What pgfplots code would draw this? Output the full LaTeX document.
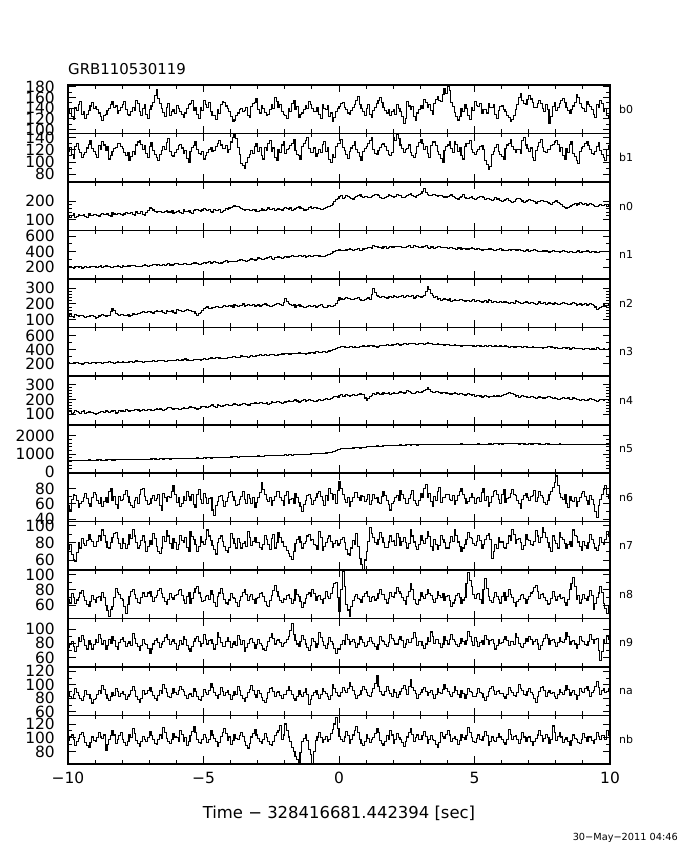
\documentclass[border=0pt]{standalone}
\usepackage{pgfplots}
\pgfplotsset{compat=1.18}
\usepackage{fontspec}
\setmainfont{DejaVu Sans}
\pgfplotsset{
  panel/.style={
    scale only axis, width=542bp, height=48.5bp,
    xmin=-10, xmax=10,
    xtick={-10,-5,0,5,10}, minor x tick num=4,
    xticklabels={},
    major tick length=7.5bp, minor tick length=4bp,
    tick style={black, line width=0.9bp},
    axis line style={line width=1.1bp},
    yticklabel style={font=\fontsize{15.5}{15.5}\selectfont, anchor=east, inner sep=0pt, xshift=-13bp},
    /pgf/number format/assume math mode=true,
    /pgf/number format/1000 sep={},
    anchor=north west,
  },
  sig/.style={black, line width=1.1bp, const plot, mark=none},
}
\begin{document}
\begin{tikzpicture}
\path[use as bounding box, fill=white] (0,0) rectangle (680bp,850bp);
\node[anchor=base west, inner sep=0pt, font=\fontsize{15}{15}\selectfont] at (68bp,775bp) {GRB110530119};

% b0
\begin{axis}[panel, at={(68bp,765bp)}, ymin=93, ymax=183, ytick={100,120,140,160,180}, minor y tick num=1]
\addplot[sig] table[x expr=\coordindex*0.0625-10,y index=0,header=false,row sep=\\]{132\\140\\125\\119\\141\\135\\146\\152\\128\\134\\121\\129\\136\\144\\150\\139\\143\\137\\131\\124\\117\\126\\128\\135\\139\\147\\152\\141\\144\\130\\135\\142\\147\\153\\138\\129\\126\\133\\142\\136\\155\\148\\133\\127\\140\\146\\129\\121\\137\\144\\151\\163\\174\\158\\148\\139\\132\\125\\141\\149\\127\\133\\138\\130\\145\\139\\134\\128\\122\\131\\139\\146\\149\\155\\136\\142\\128\\121\\142\\136\\155\\147\\141\\150\\133\\127\\126\\119\\137\\130\\146\\153\\151\\144\\139\\133\\124\\115\\118\\127\\131\\137\\140\\134\\135\\141\\127\\122\\143\\149\\150\\157\\138\\131\\145\\139\\132\\126\\129\\137\\147\\140\\159\\152\\141\\147\\134\\128\\126\\121\\140\\134\\148\\155\\137\\143\\122\\129\\131\\137\\145\\139\\152\\146\\140\\134\\133\\141\\128\\120\\146\\139\\138\\145\\125\\131\\116\\123\\134\\140\\143\\149\\150\\142\\137\\131\\129\\136\\141\\147\\155\\161\\147\\140\\133\\127\\139\\146\\128\\122\\135\\141\\148\\154\\160\\151\\142\\136\\131\\138\\126\\133\\137\\129\\146\\140\\133\\125\\112\\121\\152\\144\\138\\143\\124\\118\\131\\137\\145\\139\\156\\150\\141\\147\\135\\129\\148\\156\\162\\155\\153\\165\\176\\168\\181\\172\\150\\143\\132\\125\\118\\124\\139\\133\\147\\140\\126\\119\\141\\135\\152\\145\\143\\149\\130\\137\\137\\131\\149\\142\\141\\146\\128\\121\\136\\143\\144\\138\\133\\127\\122\\115\\119\\126\\138\\147\\160\\167\\154\\148\\147\\156\\163\\157\\150\\142\\141\\148\\155\\149\\139\\133\\146\\138\\112\\124\\143\\151\\135\\142\\149\\155\\158\\151\\141\\135\\130\\137\\144\\150\\166\\159\\148\\141\\139\\133\\152\\146\\143\\137\\128\\122\\146\\141\\155\\149\\134\\140\\127\\121\\121\\};
\end{axis}

% b1
\begin{axis}[panel, at={(68bp,716.5bp)}, ymin=67, ymax=147, ytick={80,100,120,140}, minor y tick num=1]
\addplot[sig] table[x expr=\coordindex*0.0625-10,y index=0,header=false,row sep=\\]{118\\124\\112\\106\\125\\131\\121\\115\\108\\113\\116\\123\\129\\136\\122\\117\\113\\108\\127\\121\\134\\128\\119\\125\\105\\111\\117\\122\\124\\130\\131\\126\\122\\116\\110\\115\\103\\109\\118\\112\\128\\133\\136\\129\\121\\127\\114\\108\\126\\132\\119\\113\\108\\102\\113\\119\\125\\120\\132\\138\\117\\111\\109\\115\\121\\127\\129\\123\\114\\119\\106\\100\\118\\124\\127\\133\\120\\114\\112\\118\\105\\110\\116\\121\\124\\118\\119\\126\\130\\136\\128\\122\\122\\127\\115\\120\\133\\140\\146\\138\\124\\112\\98\\94\\90\\99\\107\\113\\119\\114\\126\\131\\118\\124\\111\\105\\124\\119\\130\\135\\117\\123\\108\\102\\121\\116\\128\\134\\114\\120\\122\\127\\131\\137\\119\\113\\110\\104\\126\\131\\135\\140\\122\\116\\116\\123\\109\\114\\121\\115\\129\\134\\118\\124\\104\\99\\113\\108\\125\\130\\131\\137\\124\\119\\112\\106\\118\\123\\127\\133\\121\\115\\109\\103\\117\\122\\126\\131\\135\\141\\120\\114\\113\\119\\124\\129\\131\\125\\119\\113\\110\\116\\141\\136\\146\\139\\128\\122\\115\\120\\122\\128\\116\\110\\108\\114\\126\\132\\137\\130\\121\\126\\114\\108\\127\\133\\133\\127\\118\\112\\106\\100\\119\\125\\128\\133\\122\\116\\134\\129\\117\\123\\111\\105\\125\\131\\130\\136\\121\\115\\113\\118\\120\\126\\127\\121\\103\\96\\88\\93\\112\\118\\124\\129\\118\\113\\109\\104\\122\\128\\131\\137\\126\\120\\115\\121\\120\\114\\136\\141\\128\\122\\117\\123\\108\\103\\119\\125\\132\\137\\124\\118\\115\\121\\121\\127\\129\\133\\135\\129\\118\\124\\110\\104\\122\\116\\129\\134\\114\\109\\103\\98\\117\\123\\125\\131\\133\\127\\120\\114\\112\\118\\126\\132\\119\\113\\108\\102\\121\\127\\127\\};
\end{axis}

% n0
\begin{axis}[panel, at={(68bp,668bp)}, ymin=40, ymax=305, ytick={100,200}, minor y tick num=4]
\addplot[sig] table[x expr=\coordindex*0.0625-10,y index=0,header=false,row sep=\\]{118\\112\\124\\131\\109\\116\\127\\120\\121\\128\\115\\109\\130\\124\\122\\129\\126\\120\\119\\126\\133\\127\\128\\134\\122\\117\\136\\130\\127\\133\\131\\125\\124\\130\\138\\132\\132\\139\\127\\121\\141\\135\\135\\142\\129\\124\\137\\150\\168\\160\\152\\145\\139\\146\\144\\138\\136\\142\\148\\141\\141\\147\\133\\139\\145\\151\\139\\133\\152\\146\\143\\150\\137\\131\\149\\155\\156\\149\\144\\152\\162\\155\\150\\157\\143\\136\\155\\149\\148\\154\\139\\145\\151\\158\\157\\163\\166\\172\\178\\170\\171\\164\\160\\154\\149\\156\\155\\148\\147\\153\\152\\146\\144\\151\\158\\152\\150\\157\\163\\156\\155\\161\\147\\153\\160\\154\\152\\159\\165\\158\\157\\163\\149\\155\\162\\168\\170\\163\\158\\152\\151\\157\\164\\170\\159\\165\\168\\161\\161\\155\\153\\160\\166\\172\\172\\179\\185\\196\\208\\217\\224\\230\\216\\222\\229\\224\\221\\215\\212\\219\\226\\232\\234\\227\\219\\225\\227\\221\\218\\225\\230\\237\\236\\229\\222\\216\\214\\220\\228\\235\\233\\226\\221\\228\\237\\231\\229\\222\\218\\225\\231\\238\\240\\233\\226\\220\\233\\239\\244\\255\\268\\250\\238\\232\\229\\235\\236\\230\\224\\229\\231\\225\\218\\223\\226\\232\\234\\228\\219\\213\\212\\218\\228\\235\\221\\215\\215\\221\\224\\217\\210\\216\\219\\225\\226\\219\\207\\213\\214\\208\\203\\209\\218\\212\\212\\205\\199\\205\\211\\217\\205\\198\\193\\200\\208\\214\\214\\207\\201\\195\\196\\202\\209\\203\\202\\196\\190\\197\\197\\203\\205\\199\\198\\191\\186\\180\\194\\200\\201\\195\\188\\181\\172\\166\\162\\168\\170\\176\\183\\189\\179\\185\\191\\186\\182\\188\\175\\181\\188\\182\\179\\173\\170\\177\\184\\178\\177\\183\\172\\178\\178\\};
\end{axis}

% n1
\begin{axis}[panel, at={(68bp,619.5bp)}, ymin=50, ymax=670, ytick={200,400,600}, minor y tick num=1]
\addplot[sig] table[x expr=\coordindex*0.0625-10,y index=0,header=false,row sep=\\]{205\\213\\196\\188\\212\\204\\201\\209\\190\\197\\208\\201\\199\\206\\214\\207\\203\\196\\210\\217\\197\\205\\218\\211\\206\\200\\199\\207\\215\\222\\208\\201\\221\\214\\209\\217\\216\\223\\228\\220\\212\\206\\205\\213\\224\\231\\219\\212\\227\\220\\238\\231\\225\\233\\219\\226\\234\\227\\241\\248\\229\\222\\236\\243\\244\\237\\232\\240\\251\\244\\240\\233\\236\\243\\255\\262\\247\\240\\239\\246\\258\\251\\266\\273\\252\\259\\271\\264\\260\\253\\255\\262\\274\\281\\263\\270\\279\\272\\268\\276\\286\\293\\297\\289\\281\\275\\290\\298\\305\\297\\292\\300\\318\\310\\302\\295\\311\\319\\326\\333\\309\\302\\320\\327\\331\\324\\315\\322\\338\\331\\325\\332\\346\\339\\334\\341\\352\\345\\341\\348\\329\\336\\347\\340\\339\\346\\356\\349\\344\\337\\332\\340\\351\\358\\368\\376\\395\\403\\412\\420\\426\\418\\410\\417\\421\\428\\438\\431\\415\\422\\429\\436\\419\\412\\433\\440\\441\\448\\452\\445\\478\\470\\461\\454\\448\\441\\459\\466\\445\\452\\466\\459\\458\\465\\471\\464\\462\\455\\449\\456\\467\\474\\455\\448\\474\\467\\460\\453\\452\\459\\466\\473\\448\\441\\459\\466\\443\\450\\470\\462\\451\\458\\457\\449\\440\\447\\452\\445\\437\\430\\446\\453\\429\\436\\441\\434\\433\\440\\448\\441\\426\\433\\438\\431\\419\\426\\432\\425\\441\\434\\427\\420\\416\\423\\430\\437\\421\\414\\409\\416\\425\\418\\432\\425\\414\\421\\423\\416\\411\\404\\418\\425\\406\\413\\420\\427\\412\\405\\399\\406\\415\\408\\408\\401\\394\\401\\410\\403\\403\\396\\389\\396\\412\\405\\398\\391\\407\\400\\393\\386\\401\\408\\388\\395\\396\\403\\408\\401\\391\\398\\402\\395\\385\\392\\399\\406\\407\\400\\398\\405\\405\\};
\end{axis}

% n2
\begin{axis}[panel, at={(68bp,571bp)}, ymin=48, ymax=360, ytick={100,200,300}, minor y tick num=4]
\addplot[sig] table[x expr=\coordindex*0.0625-10,y index=0,header=false,row sep=\\]{124\\130\\118\\112\\130\\124\\121\\127\\127\\120\\112\\118\\119\\125\\128\\121\\106\\114\\122\\128\\131\\125\\118\\124\\125\\150\\170\\155\\139\\132\\128\\134\\133\\127\\126\\132\\121\\128\\135\\129\\129\\136\\138\\144\\152\\145\\146\\152\\149\\143\\141\\148\\156\\150\\150\\156\\144\\138\\159\\152\\153\\160\\147\\141\\162\\156\\155\\149\\148\\155\\166\\160\\158\\152\\151\\140\\128\\136\\145\\158\\171\\177\\180\\173\\168\\175\\176\\182\\184\\178\\177\\184\\189\\182\\181\\187\\186\\180\\194\\188\\181\\187\\192\\199\\185\\191\\198\\192\\188\\195\\183\\189\\193\\186\\187\\194\\199\\193\\190\\184\\184\\191\\196\\202\\205\\198\\191\\210\\234\\218\\202\\195\\188\\194\\180\\187\\193\\186\\184\\178\\176\\183\\189\\182\\182\\188\\175\\181\\188\\194\\181\\175\\179\\186\\190\\183\\184\\192\\201\\220\\238\\231\\229\\236\\241\\234\\233\\227\\226\\232\\237\\243\\230\\224\\224\\230\\232\\238\\227\\260\\298\\275\\256\\249\\241\\247\\249\\242\\238\\244\\246\\240\\252\\245\\243\\250\\249\\256\\240\\246\\255\\249\\246\\253\\238\\244\\251\\245\\244\\250\\256\\280\\309\\290\\268\\255\\241\\247\\229\\236\\222\\228\\233\\227\\225\\231\\218\\224\\230\\223\\221\\228\\227\\220\\215\\222\\224\\217\\219\\226\\214\\220\\222\\215\\210\\217\\219\\212\\226\\220\\208\\214\\216\\210\\211\\218\\206\\212\\215\\208\\202\\209\\211\\205\\219\\213\\208\\202\\203\\210\\214\\207\\201\\207\\209\\202\\197\\204\\212\\205\\204\\210\\196\\203\\208\\201\\199\\206\\205\\198\\194\\201\\210\\204\\201\\195\\196\\203\\207\\200\\189\\196\\199\\192\\196\\202\\188\\195\\203\\197\\192\\180\\162\\170\\178\\185\\193\\186\\187\\194\\194\\};
\end{axis}

% n3
\begin{axis}[panel, at={(68bp,522.5bp)}, ymin=27, ymax=720, ytick={200,400,600}, minor y tick num=1]
\addplot[sig] table[x expr=\coordindex*0.0625-10,y index=0,header=false,row sep=\\]{218\\211\\206\\214\\224\\217\\211\\205\\199\\207\\215\\222\\208\\203\\221\\214\\213\\220\\226\\219\\209\\216\\219\\225\\231\\223\\214\\208\\222\\229\\217\\224\\229\\222\\218\\226\\235\\228\\224\\231\\241\\234\\230\\237\\222\\229\\237\\230\\233\\240\\246\\239\\238\\245\\251\\244\\242\\236\\236\\243\\254\\247\\247\\254\\258\\251\\249\\256\\264\\270\\255\\249\\247\\254\\268\\261\\260\\266\\253\\260\\276\\269\\268\\275\\285\\279\\279\\286\\291\\284\\283\\277\\272\\280\\288\\295\\294\\300\\305\\297\\289\\296\\312\\305\\301\\308\\296\\303\\318\\311\\307\\314\\322\\328\\314\\321\\331\\324\\325\\332\\338\\331\\319\\326\\333\\340\\341\\335\\346\\352\\335\\342\\352\\346\\344\\351\\358\\351\\349\\343\\339\\346\\356\\363\\362\\355\\371\\378\\358\\365\\379\\372\\366\\373\\384\\393\\402\\410\\418\\428\\436\\443\\448\\441\\431\\438\\452\\445\\440\\447\\429\\436\\445\\451\\456\\449\\449\\456\\462\\469\\455\\448\\441\\448\\468\\461\\459\\466\\471\\464\\463\\470\\475\\482\\486\\479\\469\\476\\492\\485\\481\\488\\497\\490\\488\\482\\479\\486\\494\\487\\483\\490\\499\\492\\487\\480\\472\\479\\490\\483\\478\\471\\466\\473\\471\\464\\459\\466\\476\\469\\464\\457\\452\\459\\468\\461\\457\\464\\463\\456\\450\\457\\462\\455\\447\\454\\458\\451\\466\\459\\444\\451\\455\\448\\449\\456\\443\\450\\456\\449\\438\\445\\449\\442\\441\\448\\453\\446\\437\\444\\446\\439\\432\\439\\445\\438\\429\\436\\440\\433\\426\\433\\437\\444\\448\\441\\431\\424\\428\\421\\417\\424\\435\\428\\422\\429\\413\\420\\429\\422\\419\\426\\426\\419\\411\\418\\424\\417\\406\\413\\418\\411\\429\\422\\402\\409\\415\\408\\409\\416\\416\\};
\end{axis}

% n4
\begin{axis}[panel, at={(68bp,474bp)}, ymin=31, ymax=359, ytick={100,200,300}, minor y tick num=4]
\addplot[sig] table[x expr=\coordindex*0.0625-10,y index=0,header=false,row sep=\\]{116\\122\\108\\113\\124\\118\\112\\106\\119\\125\\105\\111\\121\\115\\114\\108\\102\\107\\111\\117\\118\\112\\126\\120\\115\\121\\122\\128\\109\\115\\128\\122\\124\\118\\131\\125\\119\\126\\127\\133\\135\\129\\122\\128\\130\\124\\126\\132\\133\\127\\128\\135\\141\\135\\136\\130\\125\\132\\139\\145\\145\\139\\134\\140\\140\\134\\132\\139\\147\\141\\139\\146\\151\\145\\143\\137\\136\\142\\149\\155\\155\\149\\146\\152\\159\\165\\152\\146\\163\\157\\150\\156\\158\\164\\166\\160\\160\\166\\171\\165\\157\\163\\168\\174\\175\\169\\163\\157\\170\\176\\178\\172\\172\\178\\181\\175\\176\\182\\169\\175\\184\\178\\179\\185\\188\\182\\175\\181\\183\\189\\191\\185\\186\\192\\197\\190\\180\\187\\193\\199\\188\\194\\199\\192\\194\\188\\186\\193\\202\\196\\195\\201\\208\\202\\199\\206\\213\\218\\221\\215\\226\\232\\218\\224\\231\\225\\224\\230\\236\\229\\229\\235\\240\\234\\233\\210\\196\\208\\222\\229\\238\\232\\245\\239\\231\\237\\249\\243\\240\\246\\236\\242\\247\\241\\239\\245\\252\\246\\244\\250\\258\\252\\248\\242\\241\\247\\254\\248\\249\\255\\262\\270\\283\\265\\256\\250\\247\\253\\253\\247\\244\\250\\250\\244\\243\\237\\237\\243\\248\\242\\232\\238\\241\\235\\229\\235\\238\\232\\226\\231\\221\\226\\230\\224\\217\\223\\226\\220\\214\\219\\223\\229\\219\\224\\228\\222\\225\\231\\236\\243\\249\\241\\238\\231\\222\\228\\215\\221\\226\\220\\219\\214\\212\\218\\221\\215\\208\\214\\217\\211\\205\\210\\214\\220\\222\\216\\209\\215\\206\\201\\199\\205\\213\\207\\204\\210\\197\\203\\210\\204\\202\\197\\195\\201\\201\\196\\192\\198\\206\\200\\197\\192\\189\\195\\203\\197\\194\\200\\198\\193\\193\\};
\end{axis}

% n5
\begin{axis}[panel, at={(68bp,425.5bp)}, ymin=-38, ymax=2612, ytick={0,1000,2000}, minor y tick num=4]
\addplot[sig] table[x expr=\coordindex*0.0625-10,y index=0,header=false,row sep=\\]{652\\659\\641\\648\\668\\661\\655\\649\\637\\645\\660\\667\\673\\665\\649\\656\\664\\671\\679\\672\\658\\665\\671\\678\\686\\679\\667\\674\\680\\687\\692\\685\\688\\695\\701\\694\\683\\690\\709\\702\\695\\703\\714\\707\\700\\708\\722\\715\\718\\725\\731\\724\\712\\719\\737\\730\\725\\733\\743\\736\\729\\737\\748\\741\\756\\749\\742\\750\\769\\762\\754\\761\\771\\764\\762\\770\\783\\776\\768\\775\\790\\783\\805\\798\\784\\792\\812\\805\\798\\806\\821\\814\\806\\813\\829\\822\\836\\843\\851\\844\\833\\841\\862\\855\\847\\855\\870\\863\\858\\866\\881\\874\\893\\886\\878\\885\\905\\898\\914\\907\\897\\905\\926\\918\\911\\919\\935\\928\\948\\941\\962\\955\\941\\949\\973\\966\\958\\965\\986\\979\\971\\979\\995\\1001\\1008\\1015\\1022\\1030\\1039\\1028\\1017\\1036\\1056\\1068\\1081\\1102\\1125\\1160\\1196\\1232\\1268\\1283\\1297\\1305\\1312\\1300\\1289\\1310\\1330\\1339\\1348\\1334\\1321\\1342\\1362\\1375\\1389\\1400\\1410\\1401\\1392\\1415\\1436\\1428\\1421\\1434\\1447\\1457\\1468\\1460\\1452\\1466\\1481\\1472\\1463\\1479\\1495\\1486\\1478\\1490\\1502\\1495\\1489\\1503\\1517\\1505\\1494\\1501\\1508\\1517\\1526\\1512\\1499\\1516\\1534\\1523\\1512\\1527\\1541\\1530\\1520\\1513\\1506\\1518\\1529\\1520\\1511\\1524\\1537\\1529\\1522\\1535\\1548\\1539\\1530\\1522\\1515\\1527\\1539\\1531\\1524\\1535\\1546\\1538\\1531\\1524\\1518\\1536\\1553\\1545\\1538\\1549\\1560\\1551\\1541\\1555\\1547\\1556\\1566\\1558\\1550\\1562\\1573\\1565\\1558\\1550\\1544\\1553\\1562\\1548\\1535\\1543\\1551\\1545\\1539\\1552\\1563\\1555\\1546\\1537\\1528\\1541\\1555\\1547\\1540\\1533\\1532\\1540\\1526\\1537\\1548\\1540\\1533\\1525\\1519\\1530\\1541\\1533\\1524\\1517\\1510\\1522\\1535\\1527\\1518\\1526\\1532\\1520\\1507\\1515\\1525\\1533\\1540\\1528\\1516\\1523\\1529\\1520\\1512\\1518\\1518\\};
\draw[line width=2.6bp] (rel axis cs:0,1) -- (rel axis cs:1,1);
\end{axis}

% n6
\begin{axis}[panel, at={(68bp,377bp)}, ymin=36.7, ymax=101, ytick={40,60,80}, minor y tick num=1]
\addplot[sig] table[x expr=\coordindex*0.0625-10,y index=0,header=false,row sep=\\]{58\\52\\66\\73\\71\\64\\55\\61\\63\\69\\74\\67\\60\\57\\68\\75\\72\\65\\61\\68\\57\\63\\69\\62\\76\\81\\64\\70\\59\\54\\70\\64\\66\\72\\78\\70\\62\\58\\55\\64\\68\\61\\73\\79\\81\\70\\64\\59\\60\\67\\71\\64\\67\\73\\58\\52\\74\\68\\63\\70\\69\\76\\85\\72\\62\\69\\56\\61\\70\\64\\77\\70\\65\\72\\59\\55\\72\\79\\66\\61\\74\\68\\61\\67\\68\\52\\45\\58\\63\\70\\71\\65\\57\\63\\69\\75\\76\\70\\64\\58\\59\\66\\70\\76\\66\\60\\73\\67\\61\\68\\55\\62\\68\\75\\88\\79\\72\\66\\63\\69\\58\\64\\70\\77\\76\\69\\64\\58\\71\\77\\60\\66\\67\\61\\74\\68\\62\\57\\50\\59\\65\\71\\73\\67\\59\\64\\68\\74\\77\\70\\64\\58\\71\\65\\81\\74\\66\\72\\60\\78\\90\\80\\72\\66\\62\\68\\57\\63\\69\\75\\75\\69\\64\\71\\70\\63\\66\\72\\59\\65\\73\\67\\68\\62\\61\\70\\77\\71\\65\\59\\52\\61\\63\\69\\71\\65\\78\\72\\67\\61\\60\\67\\72\\78\\65\\60\\58\\65\\74\\68\\81\\86\\69\\74\\63\\57\\70\\64\\76\\82\\62\\68\\68\\73\\72\\66\\65\\71\\59\\64\\71\\77\\80\\73\\67\\61\\63\\69\\74\\68\\61\\67\\69\\63\\75\\80\\64\\70\\57\\62\\70\\76\\78\\72\\66\\60\\73\\79\\62\\67\\68\\74\\79\\72\\71\\65\\60\\54\\66\\71\\74\\69\\65\\70\\71\\78\\63\\68\\76\\71\\68\\62\\59\\65\\72\\77\\82\\88\\97\\85\\74\\68\\66\\72\\61\\55\\70\\64\\63\\69\\57\\63\\69\\74\\76\\70\\64\\59\\71\\66\\59\\50\\42\\58\\66\\72\\79\\84\\73\\67\\67\\};
\end{axis}

% n7
\begin{axis}[panel, at={(68bp,328.5bp)}, ymin=48.4, ymax=104.9, ytick={60,80,100}, minor y tick num=1]
\addplot[sig] table[x expr=\coordindex*0.0625-10,y index=0,header=false,row sep=\\]{72\\78\\66\\60\\58\\69\\80\\74\\85\\79\\77\\83\\90\\84\\82\\76\\76\\82\\88\\83\\95\\89\\81\\75\\74\\80\\86\\91\\92\\85\\79\\73\\85\\79\\73\\78\\90\\85\\96\\88\\80\\74\\77\\83\\88\\81\\70\\76\\83\\78\\91\\85\\76\\70\\68\\74\\87\\82\\94\\88\\79\\73\\85\\80\\72\\78\\89\\83\\81\\86\\75\\70\\93\\87\\84\\78\\70\\76\\87\\81\\78\\84\\95\\88\\83\\77\\72\\67\\80\\85\\88\\82\\76\\71\\69\\75\\91\\85\\79\\74\\85\\80\\74\\79\\82\\76\\93\\86\\77\\82\\86\\80\\80\\75\\72\\78\\89\\84\\78\\72\\85\\90\\74\\80\\92\\86\\81\\76\\76\\71\\68\\64\\61\\70\\79\\84\\87\\81\\74\\79\\82\\88\\90\\83\\84\\78\\77\\72\\93\\86\\71\\76\\80\\85\\88\\82\\75\\79\\83\\77\\79\\84\\86\\80\\72\\67\\65\\74\\83\\78\\91\\76\\62\\55\\49\\60\\70\\82\\98\\91\\86\\80\\78\\84\\92\\86\\80\\75\\75\\81\\88\\82\\83\\77\\91\\86\\77\\82\\86\\80\\74\\79\\95\\88\\81\\76\\72\\78\\88\\83\\79\\85\\93\\87\\76\\71\\84\\78\\72\\77\\89\\84\\80\\74\\74\\80\\87\\82\\95\\89\\81\\76\\70\\74\\78\\84\\92\\86\\85\\79\\77\\82\\89\\83\\73\\78\\84\\89\\91\\84\\62\\70\\78\\73\\86\\81\\81\\75\\74\\79\\88\\83\\96\\90\\79\\84\\85\\80\\72\\77\\90\\84\\83\\78\\77\\82\\94\\88\\80\\86\\98\\92\\86\\80\\75\\70\\88\\83\\79\\74\\92\\86\\84\\79\\73\\78\\81\\76\\95\\89\\87\\81\\76\\71\\82\\77\\74\\80\\90\\84\\79\\74\\71\\77\\86\\80\\78\\84\\93\\87\\87\\};
\end{axis}

% n8
\begin{axis}[panel, at={(68bp,280bp)}, ymin=43, ymax=105.8, ytick={60,80,100}, minor y tick num=1]
\addplot[sig] table[x expr=\coordindex*0.0625-10,y index=0,header=false,row sep=\\]{68\\63\\75\\70\\62\\67\\70\\76\\79\\72\\66\\61\\58\\65\\73\\68\\64\\70\\71\\66\\77\\70\\60\\53\\46\\55\\58\\70\\82\\77\\74\\69\\67\\58\\49\\61\\72\\78\\80\\74\\69\\64\\63\\70\\76\\71\\71\\76\\78\\72\\65\\70\\73\\79\\82\\75\\70\\65\\61\\68\\75\\70\\68\\73\\74\\79\\80\\73\\67\\62\\72\\77\\63\\69\\77\\82\\84\\76\\70\\65\\66\\71\\73\\68\\79\\74\\64\\59\\71\\76\\82\\75\\68\\63\\61\\67\\75\\70\\69\\64\\58\\66\\72\\77\\80\\74\\66\\71\\74\\68\\63\\69\\70\\75\\77\\71\\65\\60\\59\\66\\73\\79\\86\\78\\71\\66\\64\\69\\68\\73\\74\\69\\62\\67\\80\\74\\72\\65\\57\\63\\69\\74\\76\\71\\81\\75\\66\\71\\73\\68\\63\\69\\78\\72\\69\\75\\83\\88\\90\\70\\52\\80\\104\\85\\61\\54\\46\\58\\66\\72\\74\\69\\68\\64\\71\\75\\78\\72\\65\\70\\72\\67\\69\\75\\80\\74\\74\\68\\63\\69\\77\\72\\70\\76\\83\\78\\75\\70\\66\\61\\72\\78\\88\\80\\68\\62\\61\\67\\76\\71\\69\\74\\81\\75\\73\\68\\64\\69\\78\\73\\70\\75\\66\\71\\73\\66\\58\\63\\67\\73\\75\\70\\62\\67\\70\\88\\102\\92\\84\\74\\69\\74\\75\\68\\62\\80\\95\\82\\71\\66\\64\\70\\77\\72\\68\\63\\72\\77\\66\\71\\80\\74\\70\\64\\59\\65\\68\\73\\74\\69\\63\\68\\71\\76\\78\\83\\86\\78\\69\\74\\75\\70\\66\\61\\62\\69\\78\\72\\67\\72\\74\\69\\70\\64\\60\\68\\81\\88\\96\\84\\68\\73\\63\\68\\74\\69\\66\\72\\79\\73\\55\\62\\70\\76\\84\\77\\62\\56\\50\\58\\58\\};
\end{axis}

% n9
\begin{axis}[panel, at={(68bp,231.5bp)}, ymin=46.6, ymax=115, ytick={60,80,100}, minor y tick num=1]
\addplot[sig] table[x expr=\coordindex*0.0625-10,y index=0,header=false,row sep=\\]{74\\79\\82\\76\\69\\75\\88\\82\\91\\85\\77\\72\\84\\79\\72\\78\\86\\81\\93\\87\\79\\84\\71\\77\\85\\80\\90\\84\\76\\71\\81\\86\\88\\82\\75\\80\\82\\77\\94\\87\\80\\75\\70\\77\\85\\80\\78\\73\\65\\72\\79\\84\\87\\81\\74\\79\\83\\88\\92\\85\\78\\83\\86\\80\\71\\77\\84\\79\\90\\85\\77\\72\\68\\75\\82\\87\\89\\83\\75\\80\\93\\86\\79\\84\\86\\80\\72\\78\\95\\88\\81\\76\\76\\82\\88\\83\\74\\79\\83\\77\\91\\85\\78\\84\\69\\74\\80\\86\\87\\81\\73\\78\\85\\80\\77\\72\\70\\76\\82\\88\\94\\87\\79\\84\\86\\81\\75\\80\\81\\86\\89\\98\\108\\92\\84\\79\\76\\82\\91\\85\\79\\74\\70\\77\\87\\82\\74\\79\\95\\88\\82\\77\\73\\79\\88\\83\\79\\73\\66\\72\\71\\78\\84\\79\\92\\86\\78\\83\\86\\81\\74\\79\\90\\85\\81\\76\\77\\82\\88\\83\\80\\75\\72\\78\\89\\84\\83\\78\\76\\81\\93\\87\\84\\79\\79\\85\\90\\84\\74\\79\\86\\81\\81\\87\\95\\88\\77\\82\\82\\77\\73\\79\\88\\83\\96\\89\\80\\85\\85\\80\\74\\79\\89\\84\\79\\85\\92\\86\\83\\78\\75\\80\\87\\82\\78\\84\\97\\90\\82\\77\\88\\83\\76\\81\\84\\79\\91\\86\\79\\84\\86\\80\\72\\77\\85\\80\\81\\86\\89\\84\\77\\82\\83\\78\\94\\88\\80\\75\\74\\80\\87\\82\\90\\85\\78\\83\\85\\79\\71\\77\\82\\87\\93\\87\\79\\84\\86\\81\\76\\81\\88\\83\\81\\86\\95\\89\\78\\83\\84\\79\\73\\78\\89\\84\\83\\78\\77\\83\\92\\86\\80\\85\\87\\70\\56\\68\\85\\80\\91\\86\\86\\};
\end{axis}

% na
\begin{axis}[panel, at={(68bp,183bp)}, ymin=54.4, ymax=126.4, ytick={60,80,100,120}, minor y tick num=1]
\addplot[sig] table[x expr=\coordindex*0.0625-10,y index=0,header=false,row sep=\\]{88\\83\\79\\85\\95\\89\\84\\79\\76\\82\\91\\86\\86\\80\\73\\78\\80\\86\\92\\87\\99\\93\\85\\80\\77\\83\\89\\84\\95\\90\\82\\87\\90\\85\\78\\83\\86\\91\\97\\92\\83\\78\\74\\80\\91\\86\\87\\92\\96\\90\\84\\79\\77\\84\\92\\87\\101\\95\\88\\83\\81\\87\\94\\89\\85\\91\\98\\93\\90\\84\\79\\85\\87\\82\\95\\90\\83\\78\\76\\82\\93\\88\\86\\91\\102\\96\\89\\84\\80\\86\\96\\90\\84\\89\\91\\85\\78\\84\\90\\85\\97\\91\\84\\79\\75\\81\\88\\93\\99\\92\\86\\81\\92\\87\\81\\76\\74\\80\\89\\94\\96\\90\\83\\88\\90\\84\\79\\85\\86\\91\\97\\92\\85\\80\\76\\83\\91\\86\\82\\88\\94\\85\\71\\78\\84\\89\\92\\86\\80\\85\\95\\90\\87\\82\\78\\84\\100\\94\\89\\84\\83\\89\\96\\91\\88\\94\\104\\97\\91\\86\\79\\84\\86\\92\\98\\93\\89\\84\\82\\88\\95\\102\\113\\98\\90\\85\\84\\90\\97\\92\\87\\82\\93\\88\\81\\86\\90\\95\\99\\93\\86\\97\\108\\96\\92\\87\\80\\85\\88\\93\\96\\90\\84\\89\\91\\85\\79\\85\\94\\89\\87\\93\\101\\95\\90\\85\\83\\89\\97\\92\\86\\81\\92\\87\\80\\86\\95\\90\\88\\83\\82\\87\\94\\89\\87\\81\\76\\83\\90\\95\\98\\92\\85\\90\\92\\87\\87\\82\\79\\85\\96\\91\\89\\84\\83\\89\\100\\94\\91\\86\\84\\90\\95\\89\\86\\80\\74\\82\\90\\96\\97\\91\\83\\88\\92\\87\\88\\83\\80\\86\\93\\88\\86\\91\\99\\93\\84\\89\\91\\85\\78\\84\\95\\90\\89\\94\\97\\91\\83\\88\\92\\98\\105\\96\\86\\91\\94\\89\\90\\95\\95\\};
\end{axis}

% nb
\begin{axis}[panel, at={(68bp,134.5bp)}, ymin=61.6, ymax=132.4, ytick={80,100,120}, minor y tick num=1,
  xticklabels={−10,−5,0,5,10},
  xticklabel style={font=\fontsize{15.5}{15.5}\selectfont, anchor=north, inner sep=0pt, yshift=-8bp}]
\addplot[sig] table[x expr=\coordindex*0.0625-10,y index=0,header=false,row sep=\\]{96\\101\\104\\98\\89\\95\\99\\105\\108\\102\\93\\88\\86\\93\\101\\96\\94\\100\\107\\101\\99\\104\\82\\90\\97\\103\\110\\104\\91\\97\\103\\108\\98\\93\\88\\95\\105\\100\\113\\106\\96\\91\\87\\94\\102\\97\\94\\100\\109\\103\\97\\92\\90\\97\\104\\99\\115\\108\\99\\94\\92\\98\\106\\101\\100\\95\\111\\105\\95\\100\\88\\94\\103\\109\\116\\107\\98\\93\\91\\97\\105\\100\\93\\98\\110\\104\\99\\94\\87\\93\\102\\108\\113\\106\\96\\101\\90\\96\\104\\99\\97\\103\\108\\102\\94\\89\\85\\92\\101\\106\\112\\104\\99\\94\\92\\98\\106\\100\\95\\90\\88\\95\\103\\108\\110\\118\\97\\104\\120\\110\\101\\94\\86\\80\\73\\68\\63\\78\\94\\99\\104\\96\\83\\75\\62\\80\\96\\101\\107\\100\\93\\98\\102\\95\\98\\106\\112\\120\\130\\114\\102\\97\\95\\101\\109\\103\\91\\97\\104\\110\\116\\108\\97\\92\\89\\95\\105\\99\\93\\98\\100\\106\\114\\108\\96\\91\\88\\94\\103\\98\\110\\104\\92\\98\\106\\100\\98\\93\\87\\94\\101\\107\\113\\105\\95\\100\\104\\98\\97\\103\\109\\102\\91\\97\\103\\98\\96\\90\\86\\93\\108\\102\\99\\105\\111\\104\\94\\99\\102\\97\\90\\96\\105\\100\\97\\103\\115\\108\\100\\95\\93\\99\\104\\98\\96\\102\\109\\103\\88\\94\\101\\96\\94\\100\\106\\101\\98\\93\\90\\97\\112\\105\\97\\102\\103\\98\\92\\97\\107\\101\\95\\100\\101\\95\\88\\94\\99\\104\\110\\103\\94\\99\\105\\100\\91\\98\\117\\108\\96\\102\\107\\101\\93\\98\\100\\95\\89\\96\\104\\99\\98\\93\\92\\98\\106\\100\\95\\101\\101\\96\\91\\97\\108\\102\\97\\103\\103\\98\\110\\104\\104\\};
\end{axis}

% detector labels
\begin{scope}[every node/.style={anchor=west, inner sep=0pt, font=\fontsize{11}{11}\selectfont}]
\node at (619bp,740.75bp) {b0};
\node at (619bp,692.25bp) {b1};
\node at (619bp,643.75bp) {n0};
\node at (619bp,595.25bp) {n1};
\node at (619bp,546.75bp) {n2};
\node at (619bp,498.25bp) {n3};
\node at (619bp,449.75bp) {n4};
\node at (619bp,401.25bp) {n5};
\node at (619bp,352.75bp) {n6};
\node at (619bp,304.25bp) {n7};
\node at (619bp,255.75bp) {n8};
\node at (619bp,207.25bp) {n9};
\node at (619bp,158.75bp) {na};
\node at (619bp,110.25bp) {nb};
\end{scope}

\node[font=\fontsize{16.5}{16.5}\selectfont] at (339bp,37bp) {Time − 328416681.442394 [sec]};
\node[anchor=east, inner sep=0pt, font=\fontsize{9.8}{9.8}\selectfont] at (678bp,12bp) {30−May−2011 04:46};
\end{tikzpicture}
\end{document}
